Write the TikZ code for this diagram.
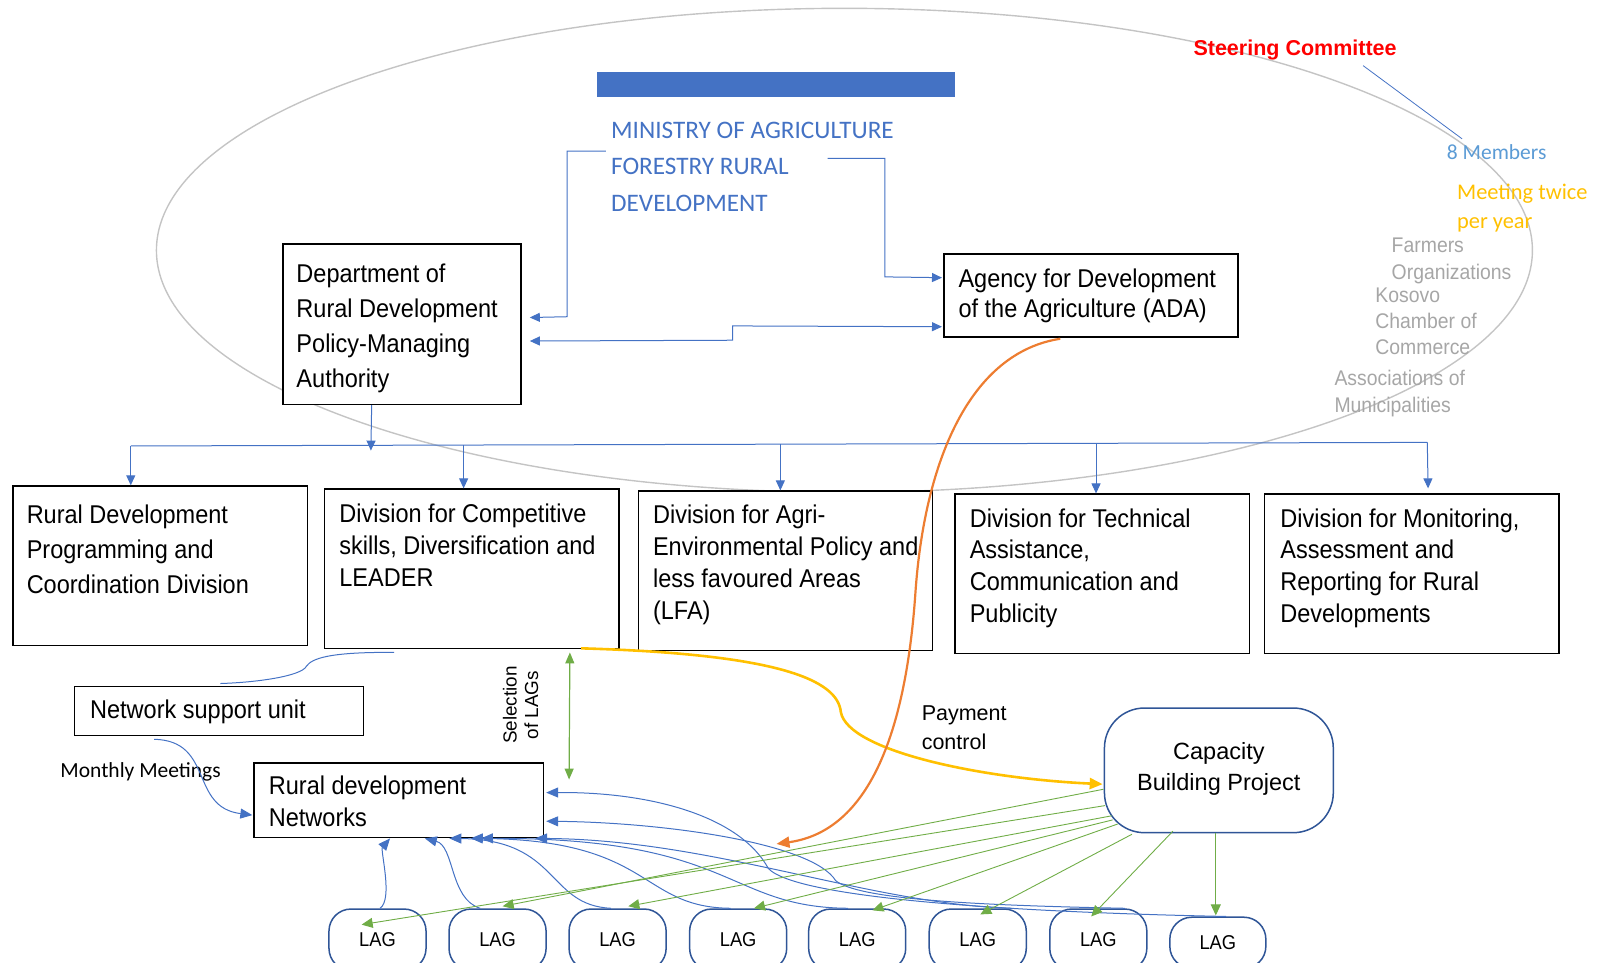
\documentclass[tikz,border=0pt]{standalone}
\usepackage{fontspec}
\setmainfont{Liberation Sans}
\newfontfamily\narrowf{Liberation Sans}[FakeStretch=0.915]
\newfontfamily\calib{Carlito}
\usetikzlibrary{arrows.meta,calc}
\definecolor{mblue}{HTML}{4472C4}
\definecolor{dblue}{HTML}{2F5597}
\definecolor{lblue}{HTML}{5B9BD5}
\definecolor{mgreen}{HTML}{70AD47}
\definecolor{myell}{HTML}{FFC000}
\definecolor{morange}{HTML}{ED7D31}
\definecolor{egray}{HTML}{C4C4C4}
\definecolor{tgray}{HTML}{A6A6A6}
\definecolor{sred}{HTML}{FF0000}
\newdimen\tsh
\newcommand\tstrut{\rule{0pt}{0.9\tsh}}
\begin{document}
\begin{tikzpicture}[x=1.0217pt,y=-1.0217pt,
 sz/.style 2 args={minimum width={#1*1.0217pt}, minimum height={#2*1.0217pt}},
 tbox/.style={draw=black, fill=white, line width=1.6pt, anchor=north west, inner sep=0pt},
 narrow/.style 2 args={font=\narrowf\fontsize{#1}{#2}\selectfont, anchor=north west, inner sep=0pt, align=left, yshift={0.549*#1pt}, execute at begin node={\tsh=#1pt\relax}},
 arial/.style 2 args={font=\fontsize{#1}{#2}\selectfont, anchor=north west, inner sep=0pt, align=left, yshift={0.549*#1pt}, execute at begin node={\tsh=#1pt\relax}},
 calib/.style 2 args={font=\calib\fontsize{#1}{#2}\selectfont, anchor=north west, inner sep=0pt, align=left, yshift={0.578*#1pt}, execute at begin node={\tsh=#1pt\relax}},
 lag/.style={draw=dblue, fill=white, line width=1.5pt, rounded corners=22pt, sz={95}{60}, anchor=north, inner sep=0pt, font=\narrowf\fontsize{20}{22}\selectfont},
 bl/.style={draw=mblue, line width=1pt},
 barr/.style={bl, -{Triangle[length=10pt,width=9pt]}},
 barrL/.style={bl, -{Triangle[length=12pt,width=10pt]}},
 gr/.style={draw=mgreen, line width=0.9pt, -{Triangle[length=11pt,width=10pt]}},
]
\path[use as bounding box] (0,0) rectangle (1568,941.6);
\clip (0,0) rectangle (1568,941.6);

% steering committee ellipse
\draw[egray, line width=1.4pt] (826.5,245) ellipse [x radius=688pt, y radius=242pt];

% blue bar
\node[fill=mblue, sz={351}{25}, anchor=north west, inner sep=0pt] (bar) at (584,70) {};

% boxes
\node[tbox, sz={233}{157}] (dept) at (276,238) {};
\node[tbox, sz={288}{81}] (agency) at (923,248) {};
\node[tbox, sz={288}{156}] (d1) at (12,475) {};
\node[tbox, sz={288}{156}] (d2) at (317,478) {};
\node[tbox, sz={288}{156}] (d3) at (624,480) {};
\node[tbox, sz={288}{156}] (d4) at (934,483) {};
\node[tbox, sz={288}{156}] (d5) at (1237,483) {};
\node[tbox, sz={283}{48}] (nsu) at (72,671) {};
\node[tbox, sz={283}{73}] (rdn) at (248,746) {};
\node[draw=dblue, fill=white, line width=1.5pt, rounded corners=40pt, sz={224}{122}, inner sep=0pt] (cbp) at (1193,754) {};
\node[align=center, inner sep=0pt, font=\fontsize{23.5}{30.7}\selectfont] (tcbp) at (1193,752.5) {Capacity\\Building Project};

% LAGs
\node[lag] (lag1) at (369.5,889) {LAG};
\node[lag] (lag2) at (487,889) {LAG};
\node[lag] (lag3) at (604.5,889) {LAG};
\node[lag] (lag4) at (722.5,889) {LAG};
\node[lag] (lag5) at (839,889) {LAG};
\node[lag] (lag6) at (957,889) {LAG};
\node[lag] (lag7) at (1075,889) {LAG};
\node[lag, sz={94}{50}] (lag8) at (1192,897) {LAG};

% texts
\node[calib={25.2}{36.8}, text=mblue] (ministry) at (598,127) {\tstrut MINISTRY OF AGRICULTURE\\FORESTRY RURAL\\DEVELOPMENT};
\node[narrow={25.7}{35}] (tdept) at (290,267) {\tstrut Department of\\Rural Development\\Policy-Managing\\Authority};
\node[narrow={25.7}{30.7}] (tada) at (938,272) {\tstrut Agency for Development\\of the Agriculture (ADA)};
\node[narrow={25.7}{35.2}] (td1) at (26,503) {\tstrut Rural Development\\Programming and\\Coordination Division};
\node[narrow={25.7}{32.2}] (td2) at (332,502) {\tstrut Division for Competitive\\skills, Diversification and\\LEADER};
\node[narrow={25.7}{32}] (td3) at (639,503) {\tstrut Division for Agri-\\Environmental Policy and\\less favoured Areas\\(LFA)};
\node[narrow={25.7}{31.7}] (td4) at (949,507) {\tstrut Division for Technical\\Assistance,\\Communication and\\Publicity};
\node[narrow={25.7}{31.7}] (td5) at (1253,507) {\tstrut Division for Monitoring,\\Assessment and\\Reporting for Rural\\Developments};
\node[narrow={25.7}{30}] (tnsu) at (88,694) {\tstrut Network support unit};
\node[narrow={25.7}{31.7}] (trdn) at (263,769) {\tstrut Rural development\\Networks};

\node[arial={21.5}{24}, text=sred] (steer) at (1168,47) {\tstrut\bfseries Steering Committee};
\node[calib={21.5}{25}, text=lblue] (members) at (1416,149) {\tstrut 8 Members};
\node[calib={22.4}{28.6}, text=myell] (meeting) at (1426,188) {\tstrut Meeting twice\\per year};
\node[narrow={21.2}{26.6}, text=tgray] (farmers) at (1362,240) {\tstrut Farmers\\Organizations};
\node[narrow={21.2}{26}, text=tgray] (kosovo) at (1346,289) {\tstrut Kosovo\\Chamber of\\Commerce};
\node[narrow={21.2}{26.6}, text=tgray] (assoc) at (1306,370) {\tstrut Associations of\\Municipalities};
\node[arial={21.5}{28.6}] (payment) at (902,698) {\tstrut Payment\\control};
\node[calib={21.5}{24}] (monthly) at (59,754) {\tstrut Monthly Meetings};
\node[font=\fontsize{18.9}{21.5}\selectfont, rotate=90, align=center, inner sep=0pt] (sel) at (509.5,690) {Selection\\of LAGs};

% steering line
\draw[bl, line width=0.8pt] ($(steer.south east)+(-33,5)$) -- ($(members.north west)+(15,-1)$);

% ministry connectors
\coordinate (mL) at (593,148);
\coordinate (mR) at (810,155);
\draw[barr] (mL) -- (555,148) -- (555,310) -- ($(dept.east)+(8,-6.5)$);
\draw[barr] (mR) -- (866,155) -- (866,271) -- ($(agency.west)+(-1,-17.5)$);
\draw[bl, {Triangle[length=10pt,width=9pt]}-{Triangle[length=10pt,width=9pt]}] ($(dept.east)+(8,16.5)$) -- (717,333) -- (717,319) -- ($(agency.west)+(-1,30.5)$);

% bus
\coordinate (busL) at (128,436.5);
\coordinate (busR) at (1397,433);
\coordinate (busD) at (363,441);
\draw[bl] (busL) -- (busR);
\draw[barr] ($(dept.south)+(-29.5,0)$) -- (busD);
\draw[barr] (busL) -- (busL |- d1.north);
\draw[barr] ($(d2.north)+(-8,-42)$) -- ($(d2.north)+(-8,0)$);
\draw[barr] ($(d3.north)+(-5,-45)$) -- ($(d3.north)+(-5,0)$);
\draw[barr] ($(d4.north)+(-6,-49)$) -- ($(d4.north)+(-6,0)$);
\draw[barr] (busR) -- ($(d5.north)+(16,-5)$);

% network support unit
\draw[bl] ($(d2.south)+(-76,3)$) .. controls (320,638) and (305,645) .. (300,652) .. controls (295,662) and (250,668) .. ($(nsu.north)+(1.5,-2)$);
\draw[barrL] ($(nsu.south)+(-63.5,3)$) .. controls (210,725) and (185,790) .. ($(rdn.west)+(-1,14.5)$);

% selection of LAGs
\coordinate (selEnd) at (557,763);
\draw[mgreen, line width=1.2pt, {Triangle[length=11pt,width=9pt]}-{Triangle[length=11pt,width=9pt]}] ($(d2.south)+(96,3)$) -- (selEnd);

% LAG to networks
\draw[barrL] ($(lag1.north)+(2.5,0)$) .. controls (385,880) and (372,832) .. ($(rdn.south)+(-8.5,0)$);
\draw[barrL] ($(lag2.north)+(-17,0)$) .. controls (440,880) and (445,828) .. ($(rdn.south)+(25.5,0)$);
\draw[barrL] ($(lag3.north)+(-6.5,0)$) .. controls (535,886) and (548,822) .. ($(rdn.south)+(49.5,0)$);
\draw[barrL] ($(lag4.north)+(-7.5,0)$) .. controls (625,888) and (640,822) .. ($(rdn.south)+(70.5,0)$);
\draw[barrL] ($(lag5.north)+(-9,0)$) .. controls (710,888) and (720,820) .. ($(rdn.south)+(80.5,0)$);
\draw[barrL] ($(lag6.north)+(33.5,0)$) .. controls (850,885) and (700,822) .. ($(rdn.south)+(133.5,0)$);
\draw[barrL] ($(lag7.north)+(26,0)$) .. controls (950,886) and (840,880) .. (818,862) .. controls (795,825) and (650,805) .. ($(rdn.east)+(2,20.5)$);
\draw[barrL] ($(lag8.north)+(8,0)$) .. controls (1000,893) and (780,880) .. (752,850) .. controls (725,800) and (640,775) .. ($(rdn.east)+(2,-7.5)$);

% capacity building to LAGs
\draw[gr] ($(cbp.center)+(-113,18.5)$) -- ($(lag2.north)+(5,-2)$);
\draw[gr] ($(cbp.center)+(-111.5,34.5)$) -- ($(lag1.north)+(-15.5,16)$);
\draw[gr] ($(cbp.center)+(-105,44.5)$) -- ($(lag3.north)+(10.5,-2)$);
\draw[gr] ($(cbp.center)+(-104,48.5)$) -- ($(lag4.north)+(15.5,0)$);
\draw[gr] ($(cbp.center)+(-99,52.5)$) -- ($(lag5.north)+(15,2)$);
\draw[gr] ($(cbp.center)+(-85,62.5)$) -- ($(lag6.north)+(2.5,6)$);
\draw[gr] ($(cbp.center)+(-45,59.5)$) -- ($(lag7.north)+(-7,8)$);
\draw[gr] ($(cbp.center)+(-3,61.5)$) -- ($(lag8.north)+(-2,-1)$);

% yellow: payment control
\draw[myell, line width=2.6pt, -{Triangle[length=13pt,width=11pt]}] ($(d2.south)+(107,-1)$) .. controls (760,640) and (820,665) .. (823,697) .. controls (830,735) and (960,762) .. ($(cbp.west)+(-1,13.5)$);

% orange: ADA
\coordinate (orEnd) at (760,826);
\draw[morange, line width=2.2pt, -{Triangle[length=13pt,width=11pt]}] ($(agency.south)+(-30,1)$) .. controls (950,345) and (905,450) .. (896,580) .. controls (885,740) and (840,815) .. (orEnd);
\end{tikzpicture}
\end{document}
